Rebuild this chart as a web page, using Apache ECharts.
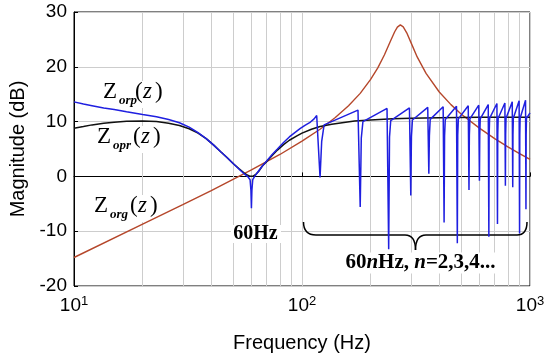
<!DOCTYPE html>
<html><head><meta charset="utf-8">
<script src="https://cdn.jsdelivr.net/npm/echarts@6/dist/echarts.min.js"></script>
<style>html,body{margin:0;padding:0;background:#fff}#c{width:550px;height:359px}</style>
</head><body><div id="c"></div>
<script>
// ---- data ----
const minorGridFreqs = [20,30,40,50,60,70,80,90,200,300,400,500,600,700,800,900];
const yMin = -20, yMax = 30, yStep = 10;
const xMin = 10, xMax = 1000;

// Z_org(z) : red
const zorgData = [
  [10,-14.8],[20,-8.7],[30,-5.15],[40,-2.6],[60,1.2],[80,4.0],[100,6.45],[120,8.6],
  [140,10.75],[160,12.9],[180,15.15],[200,17.7],[215,19.8],[230,22.2],[245,24.8],
  [255,26.4],[262,27.25],[266,27.55],[270,27.65],[274,27.55],[278,27.3],[288,26.2],
  [300,24.5],[320,21.8],[350,18.8],[400,15.4],[450,13.1],[500,11.35],[600,8.8],
  [700,6.9],[800,5.4],[900,4.15],[1000,3.1]
];
// Z_opr(z) : black
const zoprData = [
  [10,8.8],[11,9.1],[12,9.4],[13.5,9.7],[15,9.9],[17,10.05],[20,10.1],[23,10.0],[26,9.7],
  [29,9.3],[32,8.7],[35,7.9],[38,6.9],[41,5.7],[44,4.5],[47,3.4],[50,2.3],[53,1.4],
  [55.5,0.7],[57.5,0.25],[59,0.05],[60,0.0],[61,0.05],[62.5,0.3],[64.5,0.9],[67,1.9],
  [70,2.7],[74,3.8],[78,4.8],[83,5.8],[88,6.6],[95,7.4],[100,7.9],[110,8.6],[120,9.1],
  [135,9.5],[150,9.8],[170,10.1],[200,10.3],[250,10.5],[300,10.6],[400,10.7],[600,10.8],[1000,10.8]
];
// Z_orp(z) : blue
const zorpData = [
  [10,13.6],[11,13.2],[12,12.9],[13.5,12.5],[15,12.2],[17,11.8],[20,11.3],[23,10.9],
  [26,10.4],[29,9.8],[32,9.0],[35,8.0],[38,6.9],[41,5.7],[44,4.5],[47,3.4],[50,2.3],
  [53,1.3],[56,0.4],[58,-0.1],[59.2,-0.6],[59.7,-2.5],[60,-5.8],[60.3,-2.5],[60.8,-0.6],
  [62,0.0],[64,0.8],[67,1.9],[70,2.8],[74,4.0],[78,5.0],[83,6.2],[88,7.2],[93,8.0],
  [98,8.7],[103,9.3],[108,9.8],[113,10.5],[116,11.1],
  [120,-0.2],[122,6.4],[125,9.4],
  [176,12.1],[180,-5.6],[182,7.0],[185,10.0],
  [236,12.4],[240,-13.3],[242,7.2],[245,10.2],
  [296,12.5],[300,-3.5],[302,7.3],[305,10.3],
  [356,12.6],[360,0.5],[362,7.4],[365,10.4],
  [416,12.7],[420,-8.4],[422,7.4],[425,10.4],
  [476,12.8],[480,-12.2],[482,7.5],[485,10.5],
  [536,12.9],[540,-2.5],[542,7.5],[545,10.5],
  [596,13.0],[600,-0.8],[602,7.5],[605,10.5],
  [656,13.1],[660,-11.0],[662,7.6],[665,10.6],
  [716,13.3],[720,-8.7],[722,7.6],[725,10.6],
  [776,13.4],[780,-1.7],[782,7.6],[785,10.6],
  [836,13.6],[840,-2.0],[842,7.6],[845,10.6],
  [896,13.8],[900,-10.4],[902,7.6],[905,10.6],
  [956,13.9],[960,-6.0],[962,7.6],[965,10.6],
  [1000,11.6]
];

// ---- chart ----
const chart = echarts.init(document.getElementById('c'), null, {renderer:'canvas'});
const sans = '"Liberation Sans", Arial, sans-serif';
const serif = '"Liberation Serif", "Times New Roman", serif';
const gridColor = '#cdcdcd';

function txt(x, y, text, font, align) {
  return {type:'text', x:x, y:y, silent:true, z:1.5,
    style:{text:text, font:font, fill:'#000', align:align||'left', verticalAlign:'middle',
           textAlign:align||'left', textVerticalAlign:'middle'}};
}
function bgRect(x, y, w, h) {
  return {type:'rect', silent:true, z:1.4, shape:{x:x, y:y, width:w, height:h}, style:{fill:'#fff'}};
}
const fZ = '23px ' + serif;
const fSub = 'italic bold 13px ' + serif;
const fZi = 'italic 23px ' + serif;
const fP = '23px ' + serif;

const graphics = [
  bgRect(101, 81, 67, 27), bgRect(95, 126, 70, 27), bgRect(92, 195, 69, 27), bgRect(231, 225, 50, 18),
  // Z_orp(z)
  txt(103, 92, 'Z', fZ), txt(119, 101, 'orp', fSub),
  txt(135, 92, '(', fP), txt(143, 92, 'z', fZi), txt(155, 92, ')', fP),
  // Z_opr(z)
  txt(97, 137, 'Z', fZ), txt(113, 146, 'opr', fSub),
  txt(133, 137, '(', fP), txt(141, 137, 'z', fZi), txt(153, 137, ')', fP),
  // Z_org(z)
  txt(94, 206, 'Z', fZ), txt(110, 215, 'org', fSub),
  txt(130, 206, '(', fP), txt(138, 206, 'z', fZi), txt(150, 206, ')', fP),
  // 60Hz
  txt(255.5, 234, '60Hz', 'bold 20px ' + serif, 'center'),
  // 60nHz, n=2,3,4...
  {type:'text', x:420.5, y:263, silent:true, z:1.5,
   style:{text:'{a|60}{b|n}{a|Hz, }{b|n}{a|=2,3,4...}', align:'center', verticalAlign:'middle',
          textAlign:'center', textVerticalAlign:'middle', backgroundColor:'#fff',
          rich:{a:{font:'bold 21px ' + serif, fill:'#000'}, b:{font:'italic bold 21px ' + serif, fill:'#000'}}}},
  // brace
  {type:'bezierCurve', silent:true, z:1.6, shape:{x1:303.5,y1:222,cpx1:303.5,cpy1:235,x2:316,y2:235}, style:{stroke:'#000',lineWidth:1.5,fill:null}},
  {type:'line', silent:true, z:1.6, shape:{x1:316,y1:235,x2:405,y2:235}, style:{stroke:'#000',lineWidth:1.5}},
  {type:'bezierCurve', silent:true, z:1.6, shape:{x1:405,y1:235,cpx1:415.5,cpy1:235,x2:415.5,y2:250}, style:{stroke:'#000',lineWidth:1.5,fill:null}},
  {type:'bezierCurve', silent:true, z:1.6, shape:{x1:415.5,y1:250,cpx1:415.5,cpy1:235,x2:426,y2:235}, style:{stroke:'#000',lineWidth:1.5,fill:null}},
  {type:'line', silent:true, z:1.6, shape:{x1:426,y1:235,x2:517,y2:235}, style:{stroke:'#000',lineWidth:1.5}},
  {type:'bezierCurve', silent:true, z:1.6, shape:{x1:517,y1:235,cpx1:527,cpy1:235,x2:527,y2:222}, style:{stroke:'#000',lineWidth:1.5,fill:null}}
];

const option = {
  animation:false,
  backgroundColor:'#fff',
  grid:{left:74, right:20, top:12, bottom:73, show:true, borderColor:'#000', borderWidth:1, backgroundColor:'transparent'},
  xAxis:{
    type:'log', logBase:10, min:xMin, max:xMax,
    name:'Frequency (Hz)', nameLocation:'middle', nameGap:47,
    nameTextStyle:{fontFamily:sans, fontSize:20, color:'#000'},
    axisLine:{show:true, lineStyle:{color:'#000', width:1}},
    axisTick:{show:true, inside:true, length:4, lineStyle:{color:'#000'}},
    splitLine:{show:true, lineStyle:{color:gridColor, width:1}},
    axisLabel:{margin:9, color:'#000',
      formatter: function(v){ return '{b|10}{s|' + Math.round(Math.log10(v)) + '}'; },
      rich:{b:{fontFamily:sans, fontSize:19, color:'#000', lineHeight:22},
            s:{fontFamily:sans, fontSize:13, color:'#000', verticalAlign:'top', lineHeight:5}}}
  },
  yAxis:{
    type:'value', min:yMin, max:yMax, interval:yStep,
    name:'Magnitude (dB)', nameLocation:'middle', nameGap:37,
    nameTextStyle:{fontFamily:sans, fontSize:20, color:'#000'},
    axisLine:{show:true, lineStyle:{color:'#000', width:1}},
    axisTick:{show:true, inside:true, length:4, lineStyle:{color:'#000'}},
    splitLine:{show:true, lineStyle:{color:gridColor, width:1}},
    axisLabel:{margin:7, fontFamily:sans, fontSize:19, color:'#000'}
  },
  series:[
    {type:'line', name:'grid', data:[], silent:true, z:1,
     markLine:{silent:true, symbol:'none', z:1, animation:false, label:{show:false},
       lineStyle:{color:gridColor, type:'solid', width:1},
       data: minorGridFreqs.map(function(f){ return {xAxis:f}; })}},
    {type:'line', name:'Zorg', data:zorgData, showSymbol:false, symbol:'none', z:2,
     lineStyle:{color:'#b5472b', width:1.4}, itemStyle:{color:'#b5472b'}},
    {type:'line', name:'Zopr', data:zoprData, showSymbol:false, symbol:'none', z:3,
     lineStyle:{color:'#111', width:1.5}, itemStyle:{color:'#111'}},
    {type:'line', name:'Zorp', data:zorpData, showSymbol:false, symbol:'none', z:4,
     lineStyle:{color:'#1f1fe0', width:1.5}, itemStyle:{color:'#1f1fe0'}}
  ],
  graphic: graphics
};
chart.setOption(option);
</script>
</body></html>
